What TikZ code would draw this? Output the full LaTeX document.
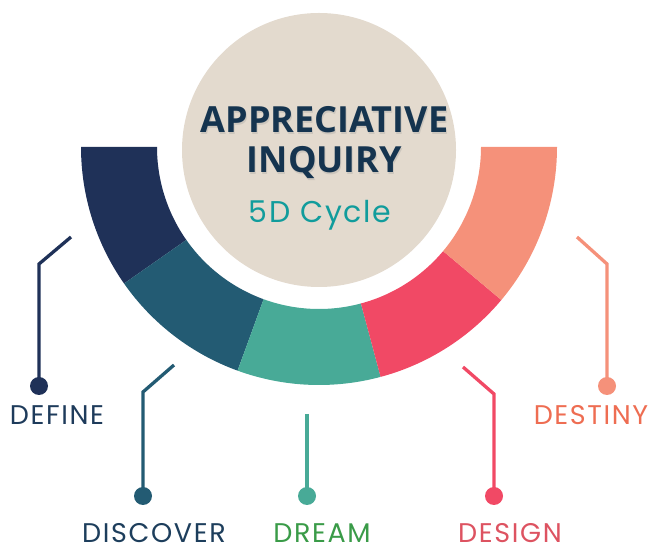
\documentclass[tikz,border=0pt]{standalone}
\usepackage{fontspec}
\setmainfont{Poppins}
\newfontfamily\titlefont{Open Sans}
\newfontfamily\lblfont[LetterSpace=6]{Poppins}
\definecolor{cDefine}{HTML}{1F3158}
\definecolor{cDiscover}{HTML}{235B73}
\definecolor{cDream}{HTML}{48AA97}
\definecolor{cDesign}{HTML}{F14965}
\definecolor{cDestiny}{HTML}{F5917A}
\definecolor{tDefine}{HTML}{1E3B5B}
\definecolor{tDiscover}{HTML}{1D3E5C}
\definecolor{tDream}{HTML}{3A9B48}
\definecolor{tDesign}{HTML}{DD5361}
\definecolor{tDestiny}{HTML}{EE6D52}
\definecolor{beige}{HTML}{E3DACE}
\definecolor{titleblue}{HTML}{15344F}
\definecolor{teal}{HTML}{119C9C}
\tikzset{
  lead/.style={line width=3.3pt},
  dotnode/.style={circle,inner sep=0pt,minimum size=18pt},
  lbl/.style={anchor=base,inner sep=0pt,font=\lblfont\fontsize{27}{29}\selectfont},
  ttl/.style={anchor=base,inner sep=0pt,text=titleblue,font=\titlefont\bfseries\fontsize{36}{38}\selectfont},
}
\begin{document}
\begin{tikzpicture}[x=1pt,y=1pt]
\useasboundingbox (0,0) rectangle (650,551);
% ring
\begin{scope}[shift={(319,404)}]
  \fill[cDefine]   (180:238) arc (180:215:238) -- (215:162) arc (215:180:162) -- cycle;
  \fill[cDiscover] (215:238) arc (215:250:238) -- (250:162) arc (250:215:162) -- cycle;
  \fill[cDream]    (250:238) arc (250:285:238) -- (285:162) arc (285:250:162) -- cycle;
  \fill[cDesign]   (285:238) arc (285:320:238) -- (320:162) arc (320:285:162) -- cycle;
  \fill[cDestiny]  (320:238) arc (320:360:238) -- (360:162) arc (360:320:162) -- cycle;
\end{scope}
% centre circle
\node[circle,fill=beige,minimum size=274pt,inner sep=0pt] (hub) at (319,401) {};
\node[ttl,text=black!40,opacity=0.3] at (325.5,416.5) {APPRECIATIVE};
\node[ttl,text=black!40,opacity=0.3] at (325.5,376.5) {INQUIRY};
\node[ttl] (t1) at (324.5,418) {APPRECIATIVE};
\node[ttl] (t2) at (324.5,378) {INQUIRY};
\node[anchor=base,inner sep=0pt,text=teal,font=\lblfont\fontsize{30}{32}\selectfont] (t3) at (320,328) {5D Cycle};
% leaders
\coordinate (e1) at (71,314); \coordinate (b1) at (39,287);
\node[dotnode,fill=cDefine] (d1) at (39,165) {};
\draw[lead,cDefine] (e1) -- (b1) -- (d1.center);
\node[lbl,text=tDefine] (l1) at (57,126) {DEFINE};

\coordinate (e2) at (174,186); \coordinate (b2) at (143,159);
\node[dotnode,fill=cDiscover] (d2) at (143,55) {};
\draw[lead,cDiscover] (e2) -- (b2) -- (d2.center);
\node[lbl,text=tDiscover] (l2) at (154,9) {DISCOVER};

\coordinate (e3) at (307,137);
\node[dotnode,fill=cDream] (d3) at (307,55) {};
\draw[lead,cDream] (e3) -- (d3.center);
\node[lbl,text=tDream] (l3) at (322,9) {DREAM};

\coordinate (e4) at (463,184); \coordinate (b4) at (494,157);
\node[dotnode,fill=cDesign] (d4) at (494,55) {};
\draw[lead,cDesign] (e4) -- (b4) -- (d4.center);
\node[lbl,text=tDesign] (l4) at (510,9) {DESIGN};

\coordinate (e5) at (577,314); \coordinate (b5) at (607,287);
\node[dotnode,fill=cDestiny] (d5) at (607,165) {};
\draw[lead,cDestiny] (e5) -- (b5) -- (d5.center);
\node[lbl,text=tDestiny] (l5) at (591,126) {DESTINY};
\end{tikzpicture}
\end{document}
